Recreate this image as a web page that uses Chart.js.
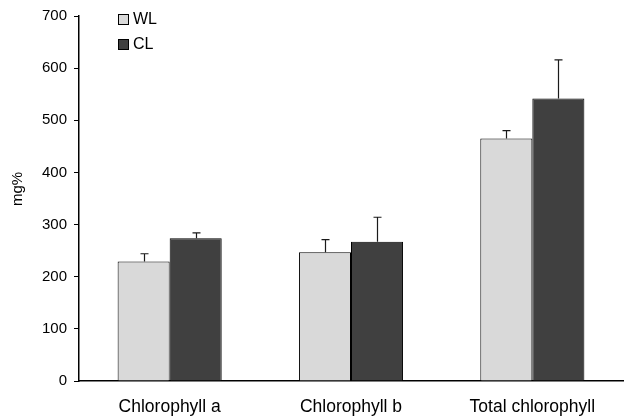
<!DOCTYPE html>
<html>
<head>
<meta charset="utf-8">
<script src="https://cdn.jsdelivr.net/npm/chart.js"></script>
<style>
  html, body { margin: 0; padding: 0; background: #fff; }
  #wrap { width: 624px; height: 417px; }
</style>
</head>
<body>
<div id="wrap"><canvas id="myChart" width="624" height="417"></canvas></div>
<script>
// data
const categories = ["Chlorophyll a", "Chlorophyll b", "Total chlorophyll"];
const wlValues = [229, 247, 465];
const wlErrors = [15, 24, 15];
const clValues = [274, 267, 542];
const clErrors = [10, 47, 74];
const yTicks = [0, 100, 200, 300, 400, 500, 600, 700];
const yTitle = "mg%";

const fontFamily = "'Liberation Sans', Arial, sans-serif";

// error bars (upper side only), drawn from the bar tops
const errorBarPlugin = {
    id: "errorBars",
    afterDatasetsDraw(chart) {
        const ctx = chart.ctx;
        const yScale = chart.scales.y;
        ctx.save();
        ctx.strokeStyle = "#1a1a1a";
        ctx.lineWidth = 1.2;
        chart.data.datasets.forEach((ds, di) => {
            const meta = chart.getDatasetMeta(di);
            meta.data.forEach((bar, i) => {
                const x = Math.round(bar.x) + 0.5;
                const yTop = yScale.getPixelForValue(ds.data[i] + ds.errors[i]);
                ctx.beginPath();
                ctx.moveTo(x, bar.y);
                ctx.lineTo(x, yTop);
                ctx.moveTo(x - 4, yTop);
                ctx.lineTo(x + 4, yTop);
                ctx.stroke();
            });
        });
        ctx.restore();
    }
};

// legend inside the plot (top-left) and the y title, a bit above centre like the original
const insideLegend = {
    id: "insideLegend",
    afterDraw(chart) {
        const ctx = chart.ctx;
        ctx.save();
        ctx.font = "16px " + fontFamily;
        ctx.textBaseline = "middle";
        chart.data.datasets.forEach((ds, i) => {
            const bx = 118.5, by = 14.5 + i * 25;
            ctx.fillStyle = ds.backgroundColor;
            ctx.fillRect(bx, by, 10, 10);
            ctx.strokeStyle = "#000";
            ctx.lineWidth = 1;
            ctx.strokeRect(bx, by, 10, 10);
            ctx.fillStyle = "#000";
            ctx.fillText(ds.label, 133, by + 5.5);
        });

        ctx.font = "15px " + fontFamily;
        ctx.translate(18, 189);
        ctx.rotate(-Math.PI / 2);
        ctx.textAlign = "center";
        ctx.fillText(yTitle, 0, 0);
        ctx.restore();
    }
};

const config = {
    type: "bar",
    data: {
        labels: categories,
        datasets: [
            { label: "WL", data: wlValues, errors: wlErrors, backgroundColor: "#d9d9d9", borderColor: "#000", borderWidth: 1 },
            { label: "CL", data: clValues, errors: clErrors, backgroundColor: "#404040", borderColor: "#000", borderWidth: 1 }
        ]
    },
    options: {
        responsive: false,
        animation: false,
        layout: { padding: { top: 14, right: 1, left: 0, bottom: 0 } },
        plugins: {
            legend: { display: false },
            tooltip: { enabled: false }
        },
        datasets: {
            bar: { categoryPercentage: 0.574, barPercentage: 1.0 }
        },
        scales: {
            x: {
                grid: { display: false, drawTicks: false },
                border: { display: true, color: "#000", width: 1.5 },
                ticks: { color: "#000", font: { family: fontFamily, size: 17.5 }, padding: 16, maxRotation: 0 },
                afterFit: (scale) => { scale.height = 36; }
            },
            y: {
                min: 0,
                max: 700,
                afterBuildTicks: (scale) => { scale.ticks = yTicks.map((v) => ({ value: v })); },
                grid: { display: true, drawOnChartArea: false, drawTicks: true, tickLength: 5, color: "#000" },
                border: { display: true, color: "#000", width: 1.5 },
                ticks: { color: "#000", font: { family: fontFamily, size: 15 }, padding: 7 },
                afterFit: (scale) => { scale.width = 79; }
            }
        }
    },
    plugins: [errorBarPlugin, insideLegend]
};

const myChart = new Chart(document.getElementById("myChart"), config);
</script>
</body>
</html>
